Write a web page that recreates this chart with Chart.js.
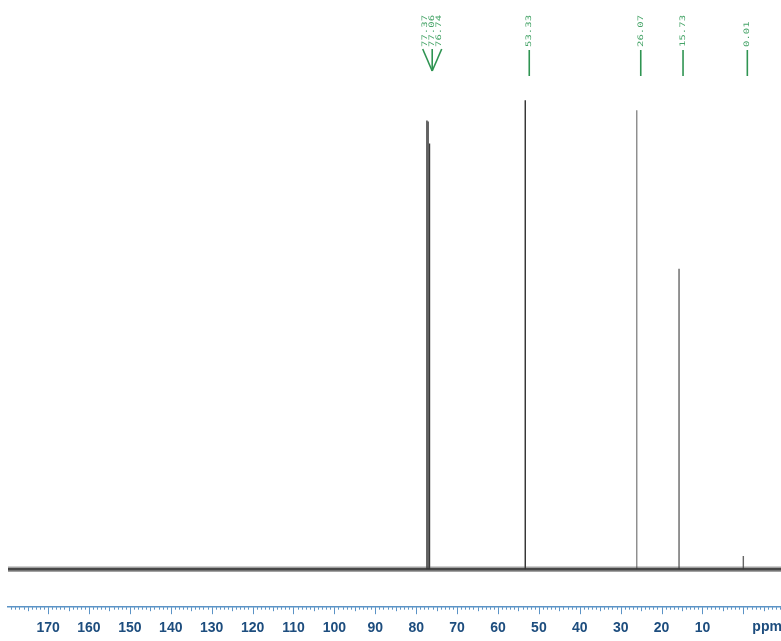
<!DOCTYPE html>
<html>
<head>
<meta charset="utf-8">
<script src="https://cdn.jsdelivr.net/npm/chart.js@4.4.1/dist/chart.umd.min.js"></script>
<style>
  html, body { margin: 0; padding: 0; background: #fff; }
  #wrap { width: 781px; height: 641px; position: relative; }
</style>
</head>
<body>
<div id="wrap"><canvas id="espectro"></canvas></div>
<script>
const picosPpm = [77.37, 77.06, 76.74, 53.33, 26.07, 15.73, 0.01];
const picosAltura = [95.7, 95.5, 90.8, 100, 97.9, 64.1, 2.8];
const etiquetasPicos = ["77.37", "77.06", "76.74", "53.33", "26.07", "15.73", "0.01"];
const gruposEtiquetas = [[0, 1, 2], [3], [4], [5], [6]];
const marcasEje = [170, 160, 150, 140, 130, 120, 110, 100, 90, 80, 70, 60, 50, 40, 30, 20, 10];
const etiquetaUnidad = "ppm";
const rangoPpm = [-9.2, 179.8];

const coloresPicos = ["#3a3a3a", "#555555", "#3a3a3a", "#2e2e2e", "#8a8a8a", "#666666", "#666666"];
const colorVerde = "#2f9452";
const colorEje = "#5b93c6";
const colorTexto = "#1d4d7e";

const lineaBase = [{ x: rangoPpm[1], y: 0 }, { x: rangoPpm[0], y: 0 }];
const datasets = [
  { data: lineaBase, borderColor: "rgba(70,70,70,0.5)", borderWidth: 5.5 },
  { data: lineaBase, borderColor: "rgba(40,40,40,0.85)", borderWidth: 2.5 }
];

picosPpm.forEach((ppm, i) => {
  datasets.push({
    data: [{ x: ppm, y: 0 }, { x: ppm, y: picosAltura[i] }],
    borderColor: coloresPicos[i],
    borderWidth: 1.4
  });
});

const pluginEtiquetas = {
  id: "etiquetasPicos",
  afterDraw(chart) {
    const ctx = chart.ctx;
    const escala = chart.scales.x;
    const base = chart.chartArea.bottom;
    ctx.save();

    // marcas menores del eje
    ctx.strokeStyle = colorEje;
    ctx.lineWidth = 1;
    for (let v = Math.ceil(escala.min); v <= Math.floor(escala.max); v++) {
      const px = Math.round(escala.getPixelForValue(v)) + 0.5;
      const largo = v % 10 === 0 ? 7 : (v % 5 === 0 ? 4 : 2.5);
      ctx.beginPath();
      ctx.moveTo(px, base);
      ctx.lineTo(px, base + largo);
      ctx.stroke();
    }

    ctx.fillStyle = colorTexto;
    ctx.font = "bold 14px 'Liberation Sans', Arial, sans-serif";
    ctx.textAlign = "left";
    ctx.textBaseline = "top";
    ctx.fillText(etiquetaUnidad, escala.getPixelForValue(0) + 9, base + 13);

    // etiquetas de picos
    ctx.font = "7.5px 'DejaVu Sans Mono', monospace";
    ctx.textBaseline = "middle";
    ctx.strokeStyle = colorVerde;
    ctx.lineWidth = 1.6;
    const textoAbajo = 47;
    gruposEtiquetas.forEach((grupo) => {
      const centro = grupo[Math.floor(grupo.length / 2)];
      const xc = escala.getPixelForValue(picosPpm[centro]) + 4;
      grupo.forEach((idx, j) => {
        const desp = (j - (grupo.length - 1) / 2);
        const xt = xc + desp * 7;
        ctx.save();
        ctx.translate(xt, textoAbajo);
        ctx.rotate(-Math.PI / 2);
        ctx.scale(1.42, 1);
        ctx.fillStyle = "#46a468";
        ctx.fillText(etiquetasPicos[idx], 0, 0);
        ctx.restore();
        ctx.beginPath();
        if (grupo.length > 1) {
          ctx.moveTo(xc + desp * 9.5, 49);
          ctx.lineTo(xc, 71);
        } else {
          ctx.moveTo(xc, 50);
          ctx.lineTo(xc, 76);
        }
        ctx.stroke();
      });
    });
    ctx.restore();
  }
};

new Chart(document.getElementById("espectro"), {
  type: "scatter",
  data: { datasets },
  options: {
    responsive: true,
    maintainAspectRatio: false,
    animation: false,
    layout: { padding: { left: 8, right: 0, top: 0, bottom: -9 } },
    elements: { point: { radius: 0, hoverRadius: 0 } },
    datasets: { scatter: { showLine: true } },
    plugins: { legend: { display: false }, tooltip: { enabled: false } },
    scales: {
      x: {
        type: "linear",
        reverse: true,
        min: rangoPpm[0],
        max: rangoPpm[1],
        afterBuildTicks: (eje) => { eje.ticks = marcasEje.map((v) => ({ value: v })); },
        grid: { display: false, drawTicks: false },
        border: { display: true, color: colorEje, width: 1.5 },
        ticks: {
          autoSkip: false,
          maxRotation: 0,
          padding: 13,
          color: colorTexto,
          font: { family: "'Liberation Sans', Arial, sans-serif", size: 14, weight: "bold" }
        }
      },
      y: {
        display: false,
        min: -8.12,
        max: 121.4
      }
    }
  },
  plugins: [pluginEtiquetas]
});
</script>
</body>
</html>
